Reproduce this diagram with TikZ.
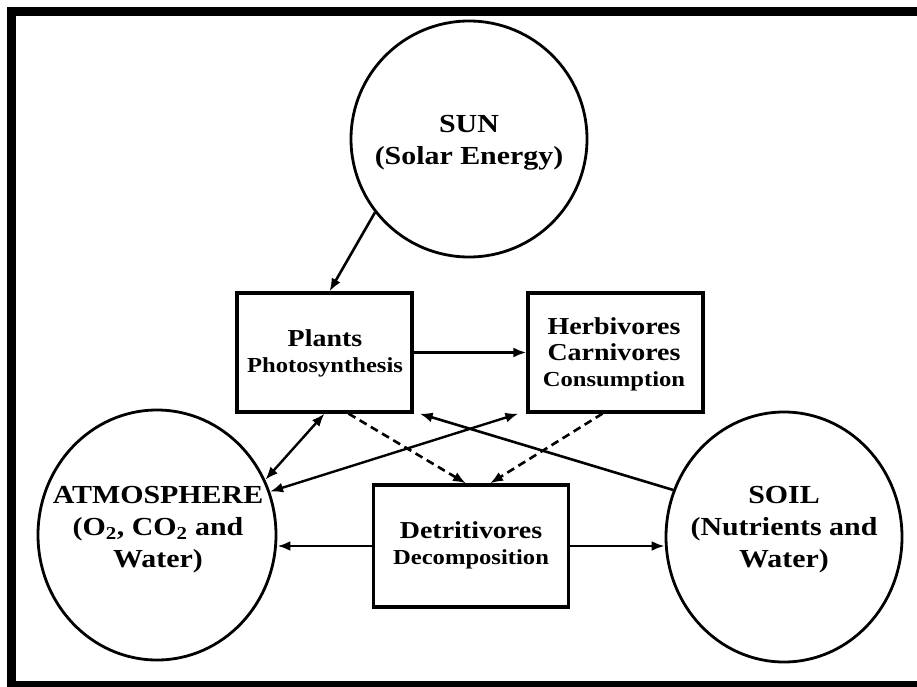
\documentclass[tikz,border=0pt]{standalone}
\usepackage{fontspec}
\setmainfont{Liberation Serif}[FakeStretch=1.15]
\usetikzlibrary{shapes.geometric,arrows.meta,calc}
\newcommand{\fnm}{\bfseries\fontsize{24.3}{26}\selectfont}
\newcommand{\fpr}{\bfseries\fontsize{21.4}{26}\selectfont}
\begin{document}
\begin{tikzpicture}[x=1pt,y=-1pt,
  circ/.style={ellipse,draw,line width=2.8pt,inner sep=0pt},
  boxn/.style={rectangle,draw,line width=3.2pt,inner sep=0pt},
  biglab/.style={align=center,inner sep=0pt,font=\bfseries\fontsize{26}{32}\selectfont},
  boxlab/.style={align=center,inner sep=0pt,font=\fnm},
  arr/.style={line width=2.6pt,-{Latex[length=13pt,width=10pt]}},
  darr/.style={line width=2.4pt,{Latex[length=13pt,width=10pt]}-{Latex[length=13pt,width=10pt]}},
  dsh/.style={line width=2.6pt,dash pattern=on 8pt off 5pt,-{Latex[length=13pt,width=10pt]}}
]
\useasboundingbox (0,0) rectangle (917,687);
\fill[white] (0,0) rectangle (917,687);
\fill[black] (7,7) rectangle (917,16);
\fill[black] (7,7) rectangle (16,687);
\fill[black] (7,681) rectangle (917,687);

\node[circ,minimum width=236pt,minimum height=236pt] (sun) at (469,139) {};
\node[circ,minimum width=238pt,minimum height=250pt] (atm) at (157,535) {};
\node[circ,minimum width=236pt,minimum height=250pt] (soil) at (784,537) {};

\node[boxn,minimum width=175pt,minimum height=119pt] (plants) at (324.5,352.5) {};
\node[boxn,minimum width=175pt,minimum height=119pt] (herb) at (615.5,352.5) {};
\node[boxn,minimum width=195pt,minimum height=122pt] (detr) at (471,546) {};

\node[biglab] (sunlab) at (469,143) {SUN\\(Solar Energy)};
\node[biglab] (atmlab) at (158,530) {ATMOSPHERE\\(O\textsubscript{2}, CO\textsubscript{2} and\\Water)};
\node[biglab] (soillab) at (784,530) {SOIL\\(Nutrients and\\Water)};

\node[boxlab] (plantslab) at (325,353) {Plants\\{\fpr Photosynthesis}};
\node[boxlab] (herblab) at (614,354) {Herbivores\\Carnivores\\{\fpr Consumption}};
\node[boxlab] (detrlab) at (471,545) {Detritivores\\{\fpr Decomposition}};

\draw[arr] (sun.218) -- ($(plants.north)+(5,0)$);
\draw[arr] (plants.east) -- (herb.west);
\draw[darr] (atm.27) -- (plants.south);
\draw[darr] (atm.21) -- ($(herb.south west)+(-8,0)$);
\draw[arr] (soil.157) -- ($(plants.south east)+(6,0)$);
\draw[dsh] ($(plants.south)+(24,0)$) -- ($(detr.north)+(-5,0)$);
\draw[dsh] ($(herb.south)+(-13,0)$) -- ($(detr.north)+(19,0)$);
\draw[arr] (detr.west) -- (detr.west -| atm.east);
\draw[arr] (detr.east) -- (detr.east -| soil.west);
\end{tikzpicture}
\end{document}
